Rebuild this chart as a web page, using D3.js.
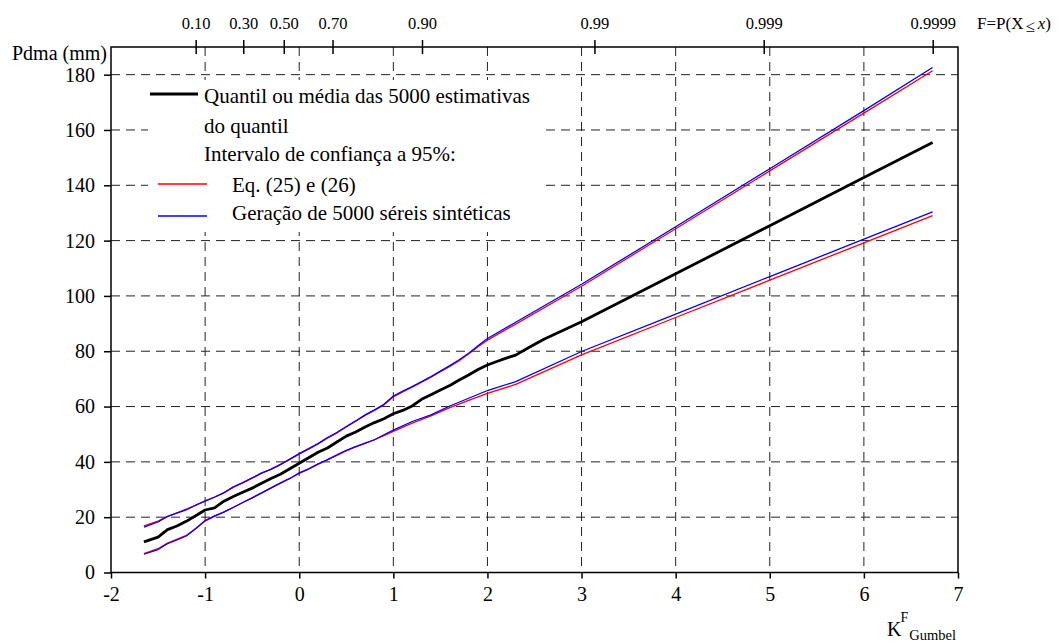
<!DOCTYPE html>
<html>
<head>
<meta charset="utf-8">
<script src="https://cdn.jsdelivr.net/npm/d3@7"></script>
<style>
  body{margin:0;background:#fff;}
  svg{display:block;font-family:"Liberation Serif","Times New Roman",serif;}
</style>
</head>
<body>
<svg id="chart" width="1059" height="644"></svg>
<script>
// ---- data ----
const xTicks=[-2,-1,0,1,2,3,4,5,6,7];
const yTicks=[0,20,40,60,80,100,120,140,160,180];
const probTicks=[0.10,0.30,0.50,0.70,0.90,0.99,0.999,0.9999];
const probLabels=["0.10","0.30","0.50","0.70","0.90","0.99","0.999","0.9999"];

// [K, Pdma] pairs
const quantil=[[-1.65,11.1],[-1.5,12.8],[-1.4,15.5],[-1.3,16.8],[-1.2,18.5],[-1.1,20.5],[-1.0,22.6],[-0.9,23.4],
  [-0.8,25.8],[-0.7,27.5],[-0.6,29.0],[-0.5,30.5],[-0.4,32.3],[-0.3,34.0],[-0.2,35.5],[-0.1,37.5],[0,39.5],
  [0.1,41.5],[0.2,43.5],[0.3,45.0],[0.4,47.2],[0.5,49.3],[0.6,50.8],[0.7,52.6],[0.8,54.2],[0.9,55.6],[1.0,57.4],
  [1.1,58.6],[1.2,60.2],[1.3,62.6],[1.4,64.3],[1.5,66.0],[1.6,67.6],[1.7,69.6],[1.8,71.4],[1.9,73.4],[2.0,75.0],
  [2.1,76.3],[2.2,77.5],[2.3,78.6],[2.45,81.5],[2.6,84.3],[3.0,90.7],[4.0,108.0],[5.0,125.4],[6.0,142.8],[6.73,155.5]];

const synUpper=[[-1.65,16.4],[-1.5,18.3],[-1.4,20.3],[-1.3,21.5],[-1.2,22.6],[-1.1,24.4],[-1.0,25.8],[-0.9,27.2],
  [-0.8,28.8],[-0.7,31.0],[-0.6,32.5],[-0.5,34.2],[-0.4,36.0],[-0.3,37.3],[-0.2,39.0],[-0.1,41.0],[0,43.0],
  [0.1,44.8],[0.2,46.6],[0.3,48.8],[0.4,50.6],[0.5,52.8],[0.6,54.8],[0.7,57.0],[0.8,58.8],[0.9,60.8],[1.0,63.8],
  [1.1,65.6],[1.2,67.2],[1.3,69.0],[1.4,70.8],[1.5,72.8],[1.6,74.8],[1.7,76.9],[1.8,79.3],[1.9,82.0],[2.0,84.6],
  [2.3,90.5],[3.0,104.2],[4.0,125.0],[5.0,146.0],[6.0,167.0],[6.73,182.6]];

const eqUpper=[[-1.65,16.9],[-1.5,18.6],[-1.4,20.2],[-1.3,21.6],[-1.2,22.9],[-1.1,24.3],[-1.0,25.9],[-0.9,27.3],
  [-0.8,28.9],[-0.7,30.8],[-0.6,32.4],[-0.5,34.1],[-0.4,35.8],[-0.3,37.4],[-0.2,39.1],[-0.1,40.9],[0,42.8],
  [0.1,44.6],[0.2,46.5],[0.3,48.6],[0.4,50.5],[0.5,52.6],[0.6,54.7],[0.7,56.8],[0.8,58.6],[0.9,60.6],[1.0,63.5],
  [1.1,65.3],[1.2,67.0],[1.3,68.8],[1.4,70.6],[1.5,72.6],[1.6,74.5],[1.7,76.6],[1.8,79.0],[1.9,81.6],[2.0,84.0],
  [2.3,89.8],[3.0,103.5],[4.0,124.3],[5.0,145.2],[6.0,166.1],[6.73,181.4]];

const synLower=[[-1.65,6.6],[-1.5,8.3],[-1.4,10.4],[-1.3,11.8],[-1.2,13.2],[-1.1,15.8],[-1.0,18.8],[-0.9,20.5],
  [-0.8,21.8],[-0.7,23.5],[-0.6,25.3],[-0.5,27.0],[-0.4,28.8],[-0.3,30.6],[-0.2,32.4],[-0.1,34.0],[0,36.0],
  [0.1,37.5],[0.2,39.3],[0.3,40.8],[0.4,42.5],[0.5,44.2],[0.6,45.5],[0.7,46.8],[0.8,48.0],[0.9,49.8],[1.0,51.5],
  [1.2,54.6],[1.4,57.0],[1.6,60.2],[1.8,63.0],[2.0,65.8],[2.3,69.0],[3.0,79.9],[4.0,93.4],[5.0,107.0],[6.0,120.5],[6.73,130.4]];

const eqLower=[[-1.65,6.8],[-1.5,8.6],[-1.4,10.6],[-1.3,12.0],[-1.2,13.4],[-1.1,15.9],[-1.0,18.6],[-0.9,20.3],
  [-0.8,21.9],[-0.7,23.6],[-0.6,25.3],[-0.5,27.0],[-0.4,28.7],[-0.3,30.5],[-0.2,32.2],[-0.1,34.0],[0,35.8],
  [0.1,37.4],[0.2,39.1],[0.3,40.7],[0.4,42.3],[0.5,44.0],[0.6,45.4],[0.7,46.7],[0.8,48.0],[0.9,49.5],[1.0,51.0],
  [1.2,54.0],[1.4,56.6],[1.6,59.6],[1.8,62.2],[2.0,64.8],[2.3,68.0],[3.0,78.7],[4.0,92.2],[5.0,105.7],[6.0,119.2],[6.73,129.0]];

// ---- layout ----
const svg=d3.select("#chart");
const m={left:111,right:958,top:47,bottom:572.5};
const x=d3.scaleLinear().domain([-2,7]).range([m.left,m.right]);
const y=d3.scaleLinear().domain([0,190]).range([m.bottom,m.top]);
const gumbelK=F=>-(Math.sqrt(6)/Math.PI)*(0.5772+Math.log(-Math.log(F)));
const fs=20;

// grid
const grid=svg.append("g").attr("stroke","#222").attr("stroke-width",1).attr("stroke-dasharray","9,6");
grid.selectAll(".h").data(yTicks.filter(d=>d>0)).join("line")
  .attr("x1",m.left).attr("x2",m.right).attr("y1",d=>y(d)).attr("y2",d=>y(d));
grid.selectAll(".v").data(xTicks.filter(d=>d>-2&&d<7)).join("line")
  .attr("x1",d=>x(d)).attr("x2",d=>x(d)).attr("y1",m.top).attr("y2",m.bottom);

// legend background
svg.append("rect").attr("x",148).attr("y",80).attr("width",398).attr("height",152).attr("fill","#fff");

// series
const line=d3.line().x(d=>x(d[0])).y(d=>y(d[1]));
[[eqUpper,"#ff0000",1.3],[eqLower,"#ff0000",1.3],[synUpper,"#0000ff",1.3],[synLower,"#0000ff",1.3],[quantil,"#000",2.8]]
  .forEach(([data,color,w])=>{
    svg.append("path").datum(data).attr("d",line)
      .attr("fill","none").attr("stroke",color).attr("stroke-width",w).attr("stroke-linejoin","round");
  });

// frame
svg.append("rect").attr("x",m.left).attr("y",m.top).attr("width",m.right-m.left).attr("height",m.bottom-m.top)
  .attr("fill","none").attr("stroke","#000").attr("stroke-width",1.5);

// axes
const styleAxis=s=>{
  s.attr("font-family",null);
  s.select(".domain").remove();
  s.selectAll("line").attr("stroke","#000").attr("stroke-width",1.5);
  s.selectAll("text").attr("fill","#000");
};
svg.append("g").attr("transform",`translate(${m.left},0)`)
  .call(d3.axisLeft(y).tickValues(yTicks).tickSize(7).tickPadding(9))
  .call(styleAxis).call(s=>s.selectAll("text").attr("font-size",fs));
svg.append("g").attr("transform",`translate(0,${m.bottom})`)
  .call(d3.axisBottom(x).tickValues(xTicks).tickSize(6).tickPadding(22).tickFormat(d=>String(d)))
  .call(styleAxis).call(s=>s.selectAll("text").attr("font-size",fs).attr("dy",0));
svg.append("g").attr("transform",`translate(0,${m.top})`)
  .call(d3.axisTop(x).tickValues(probTicks.map(gumbelK)).tickSize(7).tickPadding(11).tickFormat((d,i)=>probLabels[i]))
  .call(styleAxis)
  .call(s=>s.selectAll("line").attr("y1",7).attr("y2",-7))
  .call(s=>s.selectAll("text").attr("font-size",16.5));

// axis titles
svg.append("text").attr("x",107).attr("y",60).attr("text-anchor","end").attr("font-size",fs).text("Pdma (mm)");
const fTitle=svg.append("text").attr("x",977).attr("y",29).attr("font-size",17);
fTitle.append("tspan").text("F=P(X");
fTitle.append("tspan").attr("dy",3).attr("dx",2).text("≤");
fTitle.append("tspan").attr("dy",-3).attr("dx",3).attr("font-style","italic").text("x");
fTitle.append("tspan").text(")");
const kTitle=svg.append("text").attr("x",887).attr("y",636).attr("font-size",fs);
kTitle.append("tspan").text("K");
kTitle.append("tspan").attr("font-size",14).attr("dy",-14).attr("dx",-1).text("F");
kTitle.append("tspan").attr("font-size",14.5).attr("dy",18).attr("dx",1).text("Gumbel");

// legend
const legFs=21;
const leg=[
  {t:"Quantil ou média das 5000 estimativas",x:204,y:103,line:[150,198,94],c:"#000",w:2.8},
  {t:"do quantil",x:204,y:133},
  {t:"Intervalo de confiança a 95%:",x:204,y:161},
  {t:"Eq. (25) e (26)",x:232,y:192,line:[158,207,184],c:"#ff0000",w:1.3},
  {t:"Geração de 5000 séreis sintéticas",x:232,y:220,line:[158,207,216],c:"#0000ff",w:1.3}
];
leg.forEach(d=>{
  if(d.line) svg.append("line").attr("x1",d.line[0]).attr("x2",d.line[1]).attr("y1",d.line[2]).attr("y2",d.line[2])
    .attr("stroke",d.c).attr("stroke-width",d.w);
  svg.append("text").attr("x",d.x).attr("y",d.y).attr("font-size",legFs).text(d.t);
});
</script>
</body>
</html>
